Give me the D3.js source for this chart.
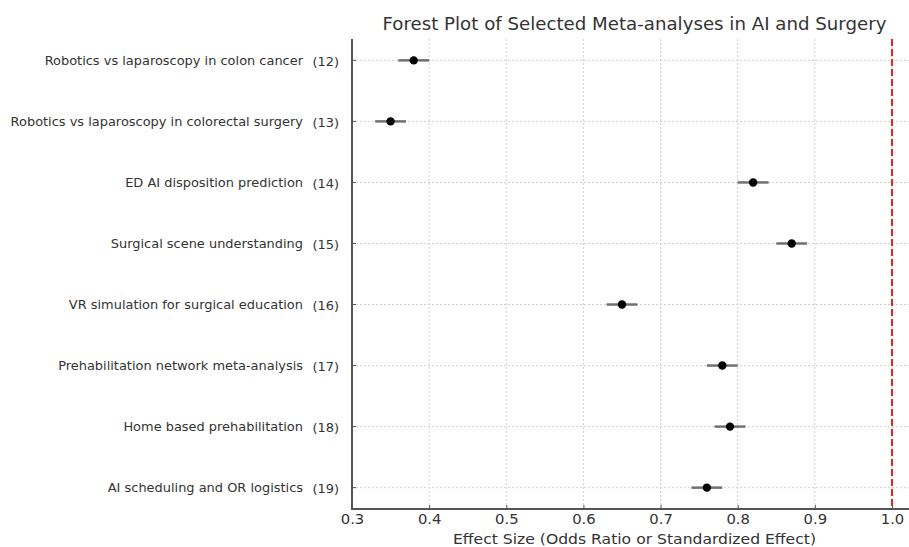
<!DOCTYPE html>
<html><head><meta charset="utf-8">
<script src="https://cdn.jsdelivr.net/npm/d3@7"></script>
<style>body{margin:0;background:#fff}svg{display:block}</style>
</head><body><svg id="c" width="909" height="547"></svg>
<script>
const studies = ["Robotics vs laparoscopy in colon cancer","Robotics vs laparoscopy in colorectal surgery","ED AI disposition prediction","Surgical scene understanding","VR simulation for surgical education","Prehabilitation network meta-analysis","Home based prehabilitation","AI scheduling and OR logistics"];
const refs = ["(12)","(13)","(14)","(15)","(16)","(17)","(18)","(19)"];
const effects = [0.38,0.35,0.82,0.87,0.65,0.78,0.79,0.76];
const lower = [0.36,0.33,0.80,0.85,0.63,0.76,0.77,0.74];
const upper = [0.40,0.37,0.84,0.89,0.67,0.80,0.81,0.78];
const xTicks = [0.3,0.4,0.5,0.6,0.7,0.8,0.9,1.0];
const refLine = 1.0;
const title = "Forest Plot of Selected Meta-analyses in AI and Surgery";
const xLabel = "Effect Size (Odds Ratio or Standardized Effect)";

const svg = d3.select("#c");
const L = 352, T = 39, B = 509;
const x = d3.scaleLinear().domain([0.3, 1.0]).range([L, 892]);
const y = d3.scaleLinear().domain([-0.35, 7.35]).range([T, B]);
const font = "'DejaVu Sans', sans-serif";
const g = svg.append("g");

// grid
g.selectAll(".vg").data(xTicks).join("line")
  .attr("x1", d => x(d)).attr("x2", d => x(d)).attr("y1", T).attr("y2", B)
  .attr("stroke", "#d0d0d0").attr("stroke-width", 1).attr("stroke-dasharray", "2,2");
g.selectAll(".hg").data(studies).join("line")
  .attr("x1", L).attr("x2", 909).attr("y1", (d,i) => y(i)).attr("y2", (d,i) => y(i))
  .attr("stroke", "#d0d0d0").attr("stroke-width", 1).attr("stroke-dasharray", "2,2");

// x axis
const xa = g.append("g").attr("transform", `translate(0,${B})`)
  .call(d3.axisBottom(x).tickValues(xTicks).tickFormat(d3.format(".1f")).tickSizeInner(-4).tickSizeOuter(0).tickPadding(4));
xa.select(".domain").remove();
xa.selectAll(".tick line").attr("stroke", "#555");
xa.selectAll("text").attr("font-family", font).attr("font-size", 14.8).attr("fill", "#333");
g.append("line").attr("x1", L).attr("x2", 909).attr("y1", B).attr("y2", B).attr("stroke", "#555").attr("stroke-width", 2);

// y axis ticks
g.selectAll(".yt").data(studies).join("line")
  .attr("x1", L).attr("x2", L + 4).attr("y1", (d,i) => y(i)).attr("y2", (d,i) => y(i))
  .attr("stroke", "#555").attr("stroke-width", 1);
g.append("line").attr("x1", L).attr("x2", L).attr("y1", T).attr("y2", B + 1).attr("stroke", "#555").attr("stroke-width", 2);

// labels
g.selectAll(".lab").data(studies).join("text")
  .attr("x", 303).attr("y", (d,i) => y(i)).attr("dy", "0.35em")
  .attr("text-anchor", "end").attr("font-family", font).attr("font-size", 12.95).attr("fill", "#333")
  .text(d => d);
g.selectAll(".ref").data(refs).join("text")
  .attr("x", 339).attr("y", (d,i) => y(i) + 1).attr("dy", "0.35em")
  .attr("text-anchor", "end").attr("font-family", font).attr("font-size", 12.95).attr("fill", "#333")
  .text(d => d);

// reference line
g.append("line").attr("x1", x(refLine)).attr("x2", x(refLine)).attr("y1", T).attr("y2", B)
  .attr("stroke", "#e8231a").attr("stroke-width", 2).attr("stroke-dasharray", "7,3");

// CIs
g.selectAll(".ci").data(effects).join("line")
  .attr("x1", (d,i) => x(lower[i])).attr("x2", (d,i) => x(upper[i]))
  .attr("y1", (d,i) => y(i)).attr("y2", (d,i) => y(i))
  .attr("stroke", "#707070").attr("stroke-width", 2.5);
g.selectAll(".pt").data(effects).join("circle")
  .attr("cx", d => x(d)).attr("cy", (d,i) => y(i)).attr("r", 4.2).attr("fill", "#000");

// title, x label
svg.append("text").attr("x", 634.5).attr("y", 30).attr("text-anchor", "middle")
  .attr("font-family", font).attr("font-size", 18.2).attr("fill", "#333").text(title);
svg.append("text").attr("x", 634.5).attr("y", 543.5).attr("text-anchor", "middle")
  .attr("font-family", font).attr("font-size", 14.5).attr("fill", "#333")
  .attr("textLength", 363).attr("lengthAdjust", "spacingAndGlyphs").text(xLabel);
</script></body></html>
